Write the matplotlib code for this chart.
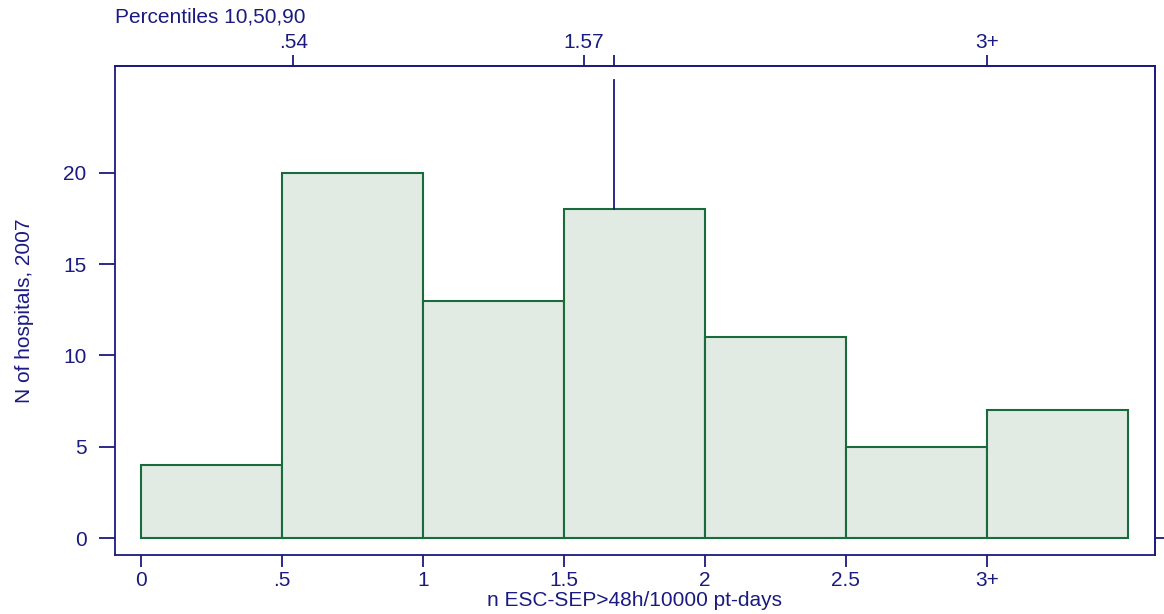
import matplotlib
matplotlib.use("Agg")
import matplotlib.pyplot as plt
import numpy as np

# Data
bin_edges = [0, 0.5, 1.0, 1.5, 2.0, 2.5, 3.0, 3.5]
counts = [4, 20, 13, 18, 11, 5, 7]
bottom_ticks = [0, 0.5, 1.0, 1.5, 2.0, 2.5, 3.0]
bottom_labels = ["0", ".5", "1", "1.5", "2", "2.5", "3+"]
y_ticks = [0, 5, 10, 15, 20]
pct_ticks = [0.54, 1.57, 3.0]
pct_labels = [".54", "1.57", "3+"]
mean_val = 1.677
mean_line_top = 25.1

navy = "#1a1a80"
green = "#1a6b3c"
fill = "#e1ebe4"

plt.rcParams["font.family"] = ["Liberation Sans", "DejaVu Sans"]

fig = plt.figure(figsize=(11.64, 6.14), dpi=100)
ax = fig.add_axes([115/1164, 59/614, 1040/1164, 489/614])

widths = np.diff(bin_edges)
ax.bar(bin_edges[:-1], counts, width=widths, align="edge",
       facecolor=fill, edgecolor=green, linewidth=1.5, zorder=2)

# mean line from bar top upward
bar_idx = np.searchsorted(bin_edges, mean_val) - 1
ax.plot([mean_val, mean_val], [counts[bar_idx], mean_line_top], color=navy, lw=1.3, zorder=3)

ax.set_xlim(-0.092, 3.596)
ax.set_ylim(-0.93, 25.86)

for s in ax.spines.values():
    s.set_color(navy)
    s.set_linewidth(1.3)

ax.set_xticks(bottom_ticks)
ax.set_xticklabels(bottom_labels)
ax.set_yticks(y_ticks)
ax.tick_params(axis="x", colors=navy, labelsize=15, length=8.5, width=1.3, pad=3)
ax.tick_params(axis="y", colors=navy, labelsize=15, length=11.5, width=1.3, pad=9)

ax.set_ylabel("N of hospitals, 2007", color=navy, fontsize=15)
ax.yaxis.set_label_coords(-(115 - 34) / 1040, 0.5)
fig.text(635/1164, 1 - 601/614, "n ESC-SEP>48h/10000 pt-days", color=navy,
         fontsize=15, ha="center", va="center")

# top axis: percentiles
top = ax.secondary_xaxis("top")
top.set_xticks(pct_ticks + [mean_val])
top.set_xticklabels(pct_labels + [""])
top.tick_params(axis="x", colors=navy, labelsize=15, length=8, width=1.3, pad=2)
top.spines["top"].set_color(navy)
top.spines["top"].set_linewidth(1.3)

fig.text(115/1164, 1 - 17/614, "Percentiles 10,50,90", color=navy, fontsize=15,
         ha="left", va="center")

# right tick at zero
right = ax.secondary_yaxis("right")
right.set_yticks([0])
right.set_yticklabels([""])
right.tick_params(axis="y", colors=navy, length=9, width=1.3)
right.spines["right"].set_color(navy)
right.spines["right"].set_linewidth(1.3)

fig.savefig("out.png", dpi=100)
